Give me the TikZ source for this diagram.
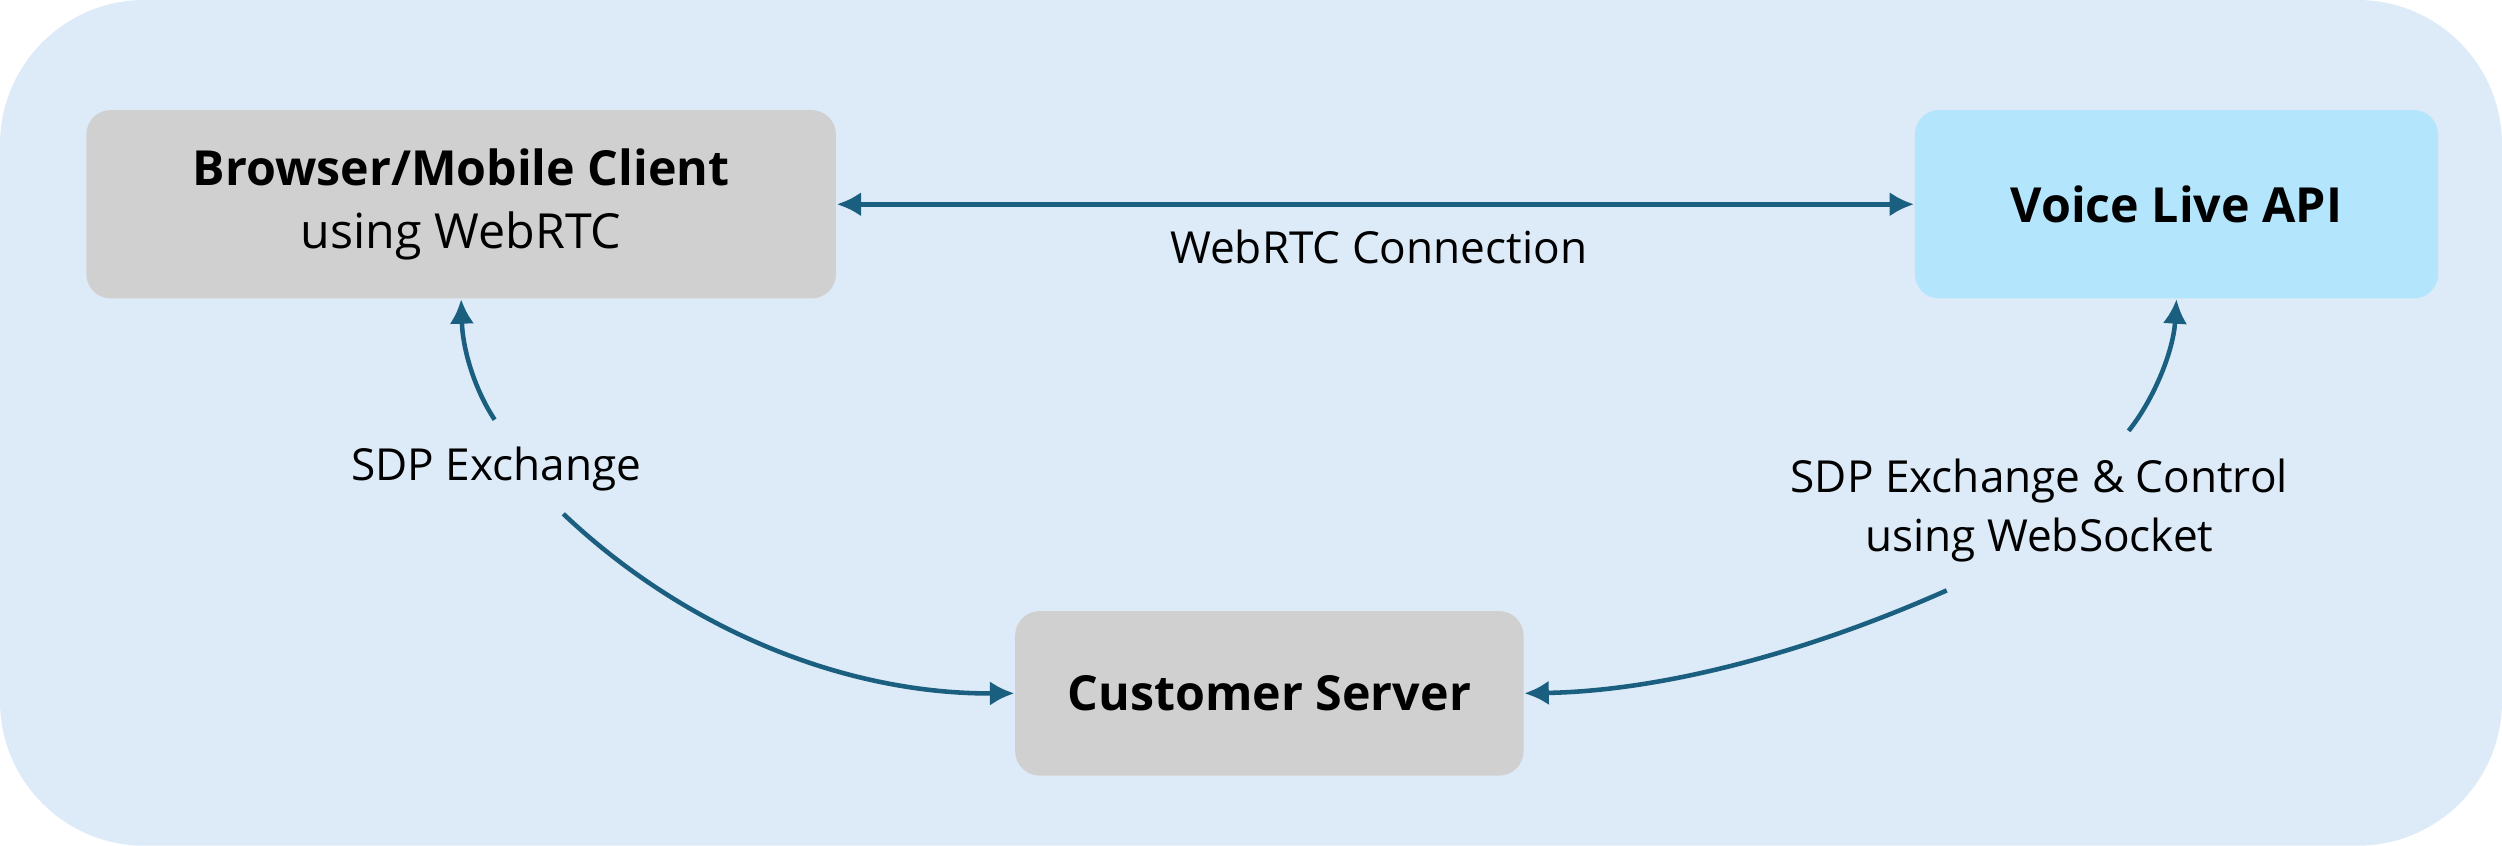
\documentclass[tikz,border=0pt]{standalone}
\usepackage{fontspec}
\setmainfont{Open Sans}
\usetikzlibrary{arrows.meta, positioning}
\definecolor{panelbg}{HTML}{DDEAF7}
\definecolor{boxgray}{HTML}{D0D0D0}
\definecolor{apiblue}{HTML}{B3E5FC}
\definecolor{linkteal}{HTML}{1A5F80}
\tikzset{
  box/.style={rectangle, rounded corners=7pt, draw=none, fill=boxgray, align=center,
    font=\fontsize{13.8}{18}\selectfont, inner sep=0pt},
  ar/.style={-{Latex[length=7pt,width=7pt]}, draw=linkteal, line width=1.3pt},
  lb/.style={font=\fontsize{12.6}{17}\selectfont, align=center, inner sep=0pt},
}
\begin{document}
\begin{tikzpicture}[x=0.016cm, y=-0.016cm]

\fill[panelbg, rounded corners=1.45cm] (0,0) rectangle (1568,530);
\useasboundingbox (0,0) rectangle (1568,530);

\node[box, minimum width=7.52cm, minimum height=1.89cm] (client) at (289,128)
  {\textbf{Browser/Mobile Client}\\using WebRTC};
\node[box, fill=apiblue, minimum width=5.25cm, minimum height=1.89cm] (api) at (1364,128)
  {\textbf{Voice Live API}};
\node[box, minimum width=5.1cm, minimum height=1.65cm] (server) at (795.5,434.5)
  {\textbf{Customer Server}};

\node[lb] (webrtc) at (864,155) {WebRTC Connection};
\node[lb] (sdpl) at (311,294) {SDP Exchange};
\node[lb] (sdpr) at (1278,320) {SDP Exchange \& Control\\using WebSocket};

\coordinate (l1) at (310,263);
\coordinate (l2) at (353,322);
\coordinate (r1) at (1334,270);
\coordinate (r2) at (1220,370);

\draw[ar, {Latex[length=7pt,width=7pt]}-{Latex[length=7pt,width=7pt]}] (client.east) -- (api.west);
\draw[ar] (l1) .. controls (298,245) and (290,220) .. (client.south);
\draw[ar] (l2) .. controls (430,395) and (530,435) .. (server.west);
\draw[ar] (r1) .. controls (1350,250) and (1362,220) .. (api.south);
\draw[ar] (r2) .. controls (1130,410) and (1040,433) .. (server.east);

\end{tikzpicture}
\end{document}
